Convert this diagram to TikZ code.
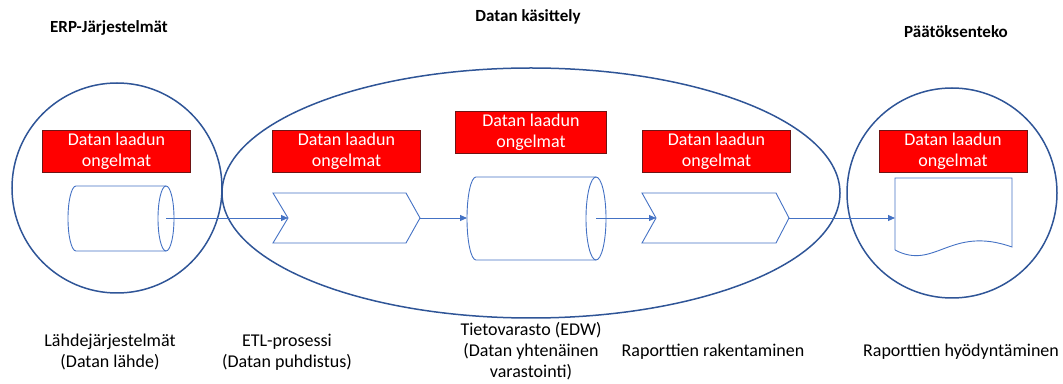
\documentclass[tikz,border=0pt]{standalone}
\usepackage{fontspec}
\setmainfont{Carlito}
\usetikzlibrary{arrows.meta}

\definecolor{ringblue}{RGB}{47,85,151}
\definecolor{shapeblue}{RGB}{68,114,196}
\definecolor{boxred}{RGB}{255,0,0}
\definecolor{boxedge}{RGB}{110,20,20}

\tikzset{
  ring/.style={draw=ringblue, line width=1.5pt},
  part/.style={draw=shapeblue, line width=0.9pt},
  flow/.style={draw=shapeblue, line width=0.9pt, -{Triangle[length=7pt,width=6pt]}},
  issue/.style={fill=boxred, draw=boxedge, line width=0.6pt, text=white,
    minimum width=148pt, minimum height=42pt, inner sep=0pt, align=center,
    font=\fontsize{18}{21}\selectfont},
  heading/.style={font=\bfseries\fontsize{17}{20}\selectfont},
  caption/.style={align=center, font=\fontsize{18}{21}\selectfont}
}

\begin{document}
\begin{tikzpicture}[x=1pt,y=1pt]
    \useasboundingbox (0,0) rectangle (1063,383);

    % rings
    \draw[ring] (117,195) circle [radius=105pt];
    \draw[ring] (531,190) ellipse [x radius=309pt, y radius=125pt];
    \draw[ring] (952,190) circle [radius=105pt];

    % headings
    \node[heading] (erp) at (109,355) {ERP-Järjestelmät};
    \node[heading] (dk) at (528,366) {Datan käsittely};
    \node[heading] (pt) at (956,351) {Päätöksenteko};

    % quality issue boxes
    \node[issue] (q1) at (116.5,232) {Datan laadun\\ongelmat};
    \node[issue] (q2) at (346.5,232) {Datan laadun\\ongelmat};
    \node[issue, minimum width=151pt] (q3) at (531,251) {Datan laadun\\ongelmat};
    \node[issue] (q4) at (716.5,232) {Datan laadun\\ongelmat};
    \node[issue] (q5) at (953,232) {Datan laadun\\ongelmat};

    % source cylinder
    \draw[part] (166,197) -- (76,197) arc [start angle=90, end angle=270, x radius=8pt, y radius=32.5pt] -- (166,132);
    \draw[part] (166,164.5) ellipse [x radius=8pt, y radius=32.5pt];
    \coordinate (src) at (166,165);

    % ETL chevron
    \draw[part] (273,190) -- (406,190) -- (420,165) -- (406,140) -- (273,140) -- (288,165) -- cycle;
    \coordinate (etlin) at (288,165);
    \coordinate (etlout) at (420,165);

    % warehouse cylinder
    \draw[part] (596,206) -- (476,206) arc [start angle=90, end angle=270, x radius=9pt, y radius=41.5pt] -- (596,123);
    \draw[part] (596,164.5) ellipse [x radius=10pt, y radius=41.5pt];
    \coordinate (edwin) at (467,165);
    \coordinate (edwout) at (596,165);

    % report chevron
    \draw[part] (642,190) -- (776,190) -- (789,165) -- (776,140) -- (642,140) -- (656,165) -- cycle;
    \coordinate (repin) at (656,165);
    \coordinate (repout) at (789,165);

    % document
    \draw[part] (895,133) -- (895,205) -- (1012,205) -- (1012,136)
        .. controls (950,158) and (935,112) .. (895,133);
    \coordinate (doc) at (895,165);

    % flow
    \draw[flow] (src) -- (etlin);
    \draw[flow] (etlout) -- (edwin);
    \draw[flow] (edwout) -- (repin);
    \draw[flow] (repout) -- (doc);

    % captions
    \node[caption] (c1) at (110,31) {Lähdejärjestelmät\\(Datan lähde)};
    \node[caption] (c2) at (287,31) {ETL-prosessi\\(Datan puhdistus)};
    \node[caption] (c3) at (531,32) {Tietovarasto (EDW)\\(Datan yhtenäinen\\varastointi)};
    \node[caption] (c4) at (713,31) {Raporttien rakentaminen};
    \node[caption] (c5) at (961,31) {Raporttien hyödyntäminen};
\end{tikzpicture}
\end{document}
